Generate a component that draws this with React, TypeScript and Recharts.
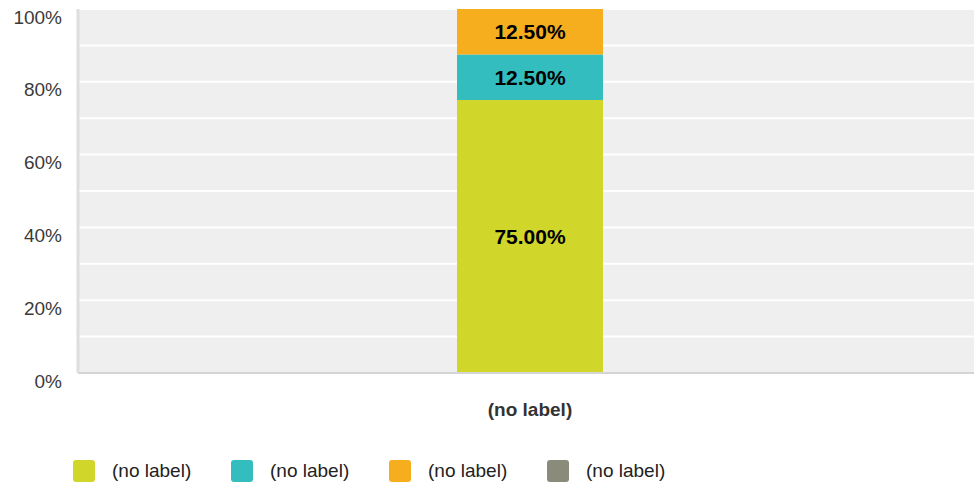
import React from 'react';
import { BarChart, Bar, XAxis, YAxis, CartesianGrid, LabelList, Legend } from 'recharts';

const categories = ['(no label)'];
const seriesNames = ['(no label)', '(no label)', '(no label)', '(no label)'];
const seriesKeys = ['s1', 's2', 's3', 's4'];
const seriesColors = ['#d0d62a', '#33bdbe', '#f6ae1f', '#8b8b7b'];
const s1Values = [75];
const s2Values = [12.5];
const s3Values = [12.5];
const s4Values = [0];
const yTicks = [0, 10, 20, 30, 40, 50, 60, 70, 80, 90, 100];

const data = categories.map((name, i) => ({
  name,
  s1: s1Values[i],
  s2: s2Values[i],
  s3: s3Values[i],
  s4: s4Values[i],
}));

const FONT = 'Arial, "Liberation Sans", Helvetica, sans-serif';

const YTick = (props: any) => {
  const { x, y, payload } = props;
  if (payload.value % 20 !== 0) return null;
  return (
    <text x={x - 8} y={y + 8} dy="0.35em" textAnchor="end" fontSize={19} fill="#3a3a3a" fontFamily={FONT}>
      {payload.value}%
    </text>
  );
};

const XTick = (props: any) => {
  const { x, y, payload } = props;
  return (
    <text x={x} y={y + 28} dy="0.35em" textAnchor="middle" fontSize={19} fontWeight="bold" fill="#333" fontFamily={FONT}>
      {payload.value}
    </text>
  );
};

const renderLegend = () => (
  <div style={{ position: 'relative', height: 27, fontFamily: FONT }}>
    {seriesNames.map((n, i) => (
      <div key={i} style={{ position: 'absolute', left: 73 + i * 158, top: 0, display: 'flex', alignItems: 'center' }}>
        <div style={{ width: 22, height: 22, borderRadius: 3, background: seriesColors[i] }} />
        <span style={{ marginLeft: 17, fontSize: 19, color: '#222', lineHeight: '22px' }}>{n}</span>
      </div>
    ))}
  </div>
);

const fmt = (v: any) => (v > 0 ? `${Number(v).toFixed(2)}%` : '');

export default function App() {
  return (
    <div style={{ position: 'absolute', left: 0, top: 0, width: 974, height: 487, overflow: 'hidden', background: '#fff' }}>
      <BarChart width={982} height={487} data={data} margin={{ top: 9, right: 0, left: 0, bottom: 0 }} barSize={146}>
        <CartesianGrid vertical={false} stroke="#ffffff" strokeWidth={2} fill="#efefef" />
        <XAxis
          dataKey="name"
          axisLine={{ stroke: '#d4d4d4', strokeWidth: 2 }}
          tickLine={false}
          tick={<XTick />}
          height={87}
        />
        <YAxis
          domain={[0, 100]}
          ticks={yTicks}
          width={78}
          axisLine={{ stroke: '#dedede', strokeWidth: 3 }}
          tickLine={false}
          tick={<YTick />}
          interval={0}
        />
        <Legend
          verticalAlign="bottom"
          content={renderLegend}
          wrapperStyle={{ left: 0, bottom: 0, width: 974 }}
        />
        {seriesKeys.map((k, i) => (
          <Bar key={k} dataKey={k} name={seriesNames[i]} stackId="a" fill={seriesColors[i]} isAnimationActive={false}>
            <LabelList
              dataKey={k}
              position="center"
              formatter={fmt}
              style={{ fontSize: 21, fontWeight: 'bold', fill: '#000', fontFamily: FONT }}
            />
          </Bar>
        ))}
      </BarChart>
    </div>
  );
}
